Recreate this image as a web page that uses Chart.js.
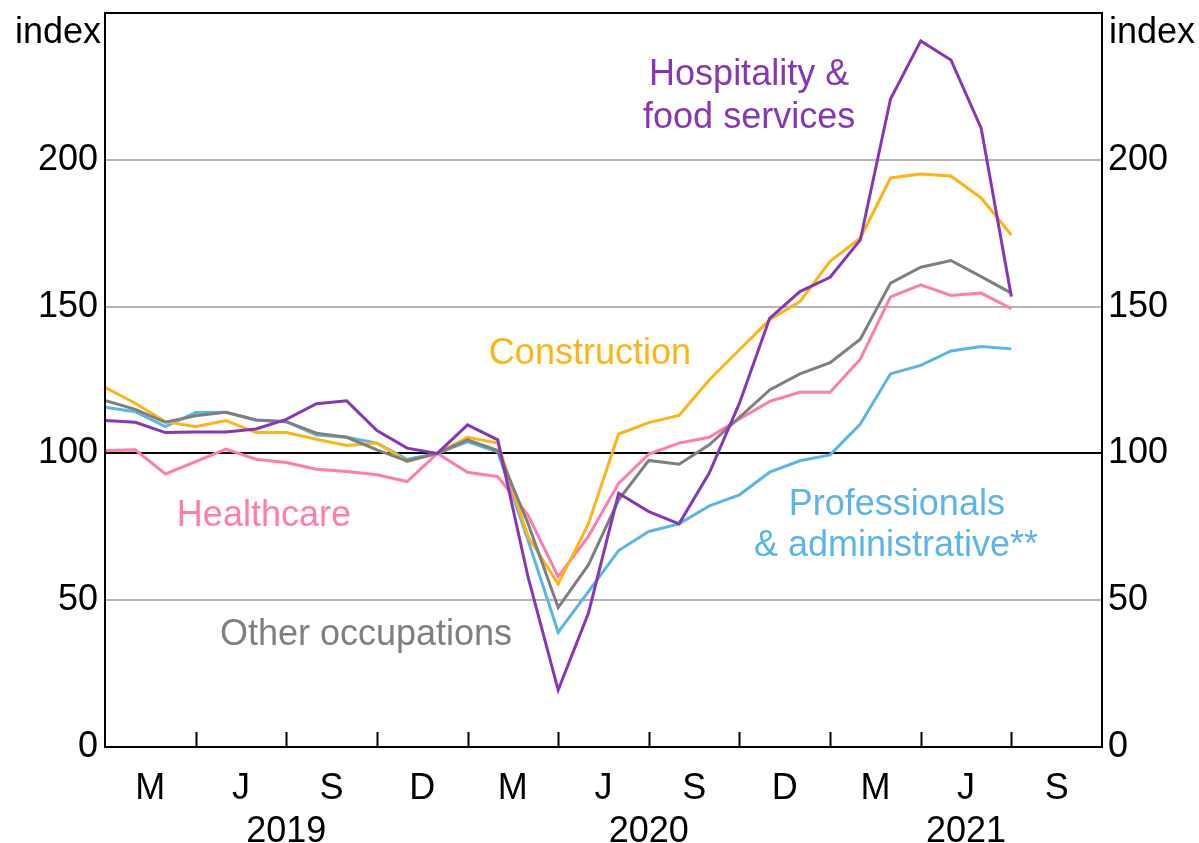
<!DOCTYPE html>
<html>
<head>
<meta charset="utf-8">
<script src="https://cdn.jsdelivr.net/npm/chart.js@4/dist/chart.umd.min.js"></script>
<style>
  html, body { margin: 0; padding: 0; background: #fff; }
  #wrap { width: 1199px; height: 843px; }
</style>
</head>
<body>
<div id="wrap"><canvas id="jobChart" width="1199" height="843"></canvas></div>
<script>
// Monthly observations, Jan 2019 to Jul 2021
const months = ['2019-01','2019-02','2019-03','2019-04','2019-05','2019-06','2019-07','2019-08','2019-09','2019-10','2019-11','2019-12',
                '2020-01','2020-02','2020-03','2020-04','2020-05','2020-06','2020-07','2020-08','2020-09','2020-10','2020-11','2020-12',
                '2021-01','2021-02','2021-03','2021-04','2021-05','2021-06','2021-07'];

const hospitality = [111.2, 110.6, 107.1, 107.3, 107.3, 108.3, 111.6, 116.9, 117.9, 107.8, 101.8, 100,
                     109.7, 104.6, 58, 19.4, 45.5, 86.4, 80.2, 76, 93.3, 117.1, 146, 155.1,
                     160, 172.7, 220.7, 240.5, 234, 210.8, 153.4];
const construction = [122.5, 117.1, 110.8, 109.1, 111.2, 107.1, 107.1, 104.8, 102.7, 103.5, 97.2, 100,
                      105.5, 103.5, 71.7, 55.5, 76, 106.6, 110.5, 112.9, 125, 135.3, 145.5, 151.7,
                      165.4, 173.3, 193.8, 195.2, 194.5, 187, 174.4];
const otherOcc = [118, 115, 110.6, 112.8, 114, 111.4, 110.8, 106.9, 105.5, 101.2, 97.4, 100,
                  104.6, 101, 76.2, 47.5, 62, 84.2, 97.6, 96.3, 102.9, 112.3, 121.6, 127.1,
                  130.9, 138.9, 158, 163.4, 165.7, 160.2, 154.6];
const professionals = [115.7, 114.2, 109.1, 113.9, 114, 111.4, 110.8, 106.3, 105.5, 103.5, 98, 100,
                       103.9, 100.5, 70.5, 39.1, 52.9, 66.9, 73.4, 76, 82.1, 85.9, 93.6, 97.5,
                       99.5, 110, 127.1, 130, 134.9, 136.4, 135.6];
const healthcare = [100.9, 101.2, 93, 97.2, 101.5, 98, 96.9, 94.6, 93.8, 92.7, 90.4, 100,
                    93.6, 92.1, 79, 58, 71.7, 89.8, 99.8, 103.5, 105.5, 111.7, 117.7, 120.8,
                    120.8, 132.1, 153.3, 157.4, 153.8, 154.6, 149.3];

// x axis: quarter letters centred in each quarter, years under them
const quarterLetters = ['M', 'J', 'S', 'D'];
const yearLabels = { 6: '2019', 18: '2020', 28.5: '2021' };
const yTicks = [0, 50, 100, 150, 200, 250];

// text labels placed in data units (x = month index, y = index value)
const seriesLabels = [
  { text: 'Hospitality &', x: 21.32, y: 225.6, color: '#8537B8' },
  { text: 'food services', x: 21.32, y: 211.0, color: '#8537B8' },
  { text: 'Construction', x: 16.05, y: 130.5, color: '#FDB515' },
  { text: 'Healthcare', x: 5.26, y: 75.3, color: '#FF7BB0' },
  { text: 'Other occupations', x: 8.64, y: 34.75, color: '#7F7F7F' },
  { text: 'Professionals', x: 26.21, y: 79.05, color: '#5BB5E6' },
  { text: '& administrative**', x: 26.18, y: 65.1, color: '#5BB5E6' }
];

const FONT = '"Liberation Sans", Arial, sans-serif';
const toPoints = arr => arr.map((v, i) => ({ x: months.indexOf(months[i]), y: v }));

const xTickValues = [];
for (let q = 0; q < 11; q++) xTickValues.push(q * 3 + 1.5);
xTickValues.push(6, 18);
xTickValues.sort((a, b) => a - b);

const noPad = scale => {
  scale.paddingTop = 0;
  scale.paddingBottom = 0;
  scale.paddingLeft = 0;
  scale.paddingRight = 0;
};

const extras = {
  id: 'extras',
  afterDraw(chart) {
    const { ctx, chartArea: a, scales } = chart;
    ctx.save();
    // frame
    ctx.strokeStyle = '#000';
    ctx.lineWidth = 2;
    ctx.strokeRect(a.left, a.top, a.right - a.left, a.bottom - a.top);
    // inward tick marks at quarter boundaries
    ctx.beginPath();
    for (let m = 3; m < 33; m += 3) {
      const px = Math.round(scales.x.getPixelForValue(m)) + 0.5;
      ctx.moveTo(px, a.bottom);
      ctx.lineTo(px, a.bottom - 15);
    }
    ctx.stroke();
    // axis unit labels
    ctx.fillStyle = '#000';
    ctx.font = '36px ' + FONT;
    ctx.textBaseline = 'alphabetic';
    ctx.textAlign = 'right';
    ctx.fillText('index', a.left - 4, 43);
    ctx.textAlign = 'left';
    ctx.fillText('index', a.right + 7, 43);
    // series labels
    ctx.textAlign = 'center';
    seriesLabels.forEach(l => {
      ctx.fillStyle = l.color;
      ctx.fillText(l.text, scales.x.getPixelForValue(l.x), scales.y.getPixelForValue(l.y));
    });
    ctx.restore();
  }
};

const ctx = document.getElementById('jobChart').getContext('2d');
const jobChart = new Chart(ctx, {
  type: 'line',
  data: {
    datasets: [
      { label: 'Hospitality & food services', data: toPoints(hospitality), borderColor: '#8537B8' },
      { label: 'Other occupations', data: toPoints(otherOcc), borderColor: '#7F7F7F' },
      { label: 'Construction', data: toPoints(construction), borderColor: '#FDB515' },
      { label: 'Healthcare', data: toPoints(healthcare), borderColor: '#FF7BB0' },
      { label: 'Professionals & administrative', data: toPoints(professionals), borderColor: '#5BB5E6' }
    ]
  },
  options: {
    responsive: false,
    animation: false,
    devicePixelRatio: 1,
    layout: { padding: { top: 13, left: 0, right: 0, bottom: 0 } },
    elements: {
      line: { borderWidth: 3, tension: 0, fill: false },
      point: { radius: 0 }
    },
    plugins: {
      legend: { display: false },
      tooltip: { enabled: false },
      title: { display: false }
    },
    scales: {
      x: {
        type: 'linear',
        min: 0,
        max: 33,
        afterBuildTicks: scale => { scale.ticks = xTickValues.map(v => ({ value: v })); },
        afterFit: scale => { scale.height = 96; noPad(scale); },
        grid: { display: false, drawTicks: false },
        border: { display: true, color: '#000', width: 2 },
        ticks: {
          autoSkip: false,
          maxRotation: 0,
          minRotation: 0,
          padding: 20,
          color: '#000',
          font: { family: FONT, size: 36 },
          callback: function (value) {
            const year = yearLabels[value];
            if (Number.isInteger(value) && value % 3 === 0) return ['', year || ''];
            const letter = quarterLetters[Math.floor(value / 3) % 4];
            return year ? [letter, year] : letter;
          }
        }
      },
      y: {
        position: 'left',
        min: 0,
        max: 250,
        afterBuildTicks: scale => { scale.ticks = yTicks.map(v => ({ value: v })); },
        afterFit: scale => { scale.width = 105; noPad(scale); },
        grid: {
          drawTicks: false,
          lineWidth: 2,
          color: c => {
            const v = c.tick ? c.tick.value : null;
            if (v === 100) return '#000';
            if (v === 0 || v === 250) return 'rgba(0,0,0,0)';
            return '#B4B4B4';
          }
        },
        border: { display: true, color: '#000', width: 2 },
        ticks: {
          padding: 7,
          color: '#000',
          font: { family: FONT, size: 36 },
          callback: v => (v === 250 ? '' : v)
        }
      },
      y2: {
        position: 'right',
        min: 0,
        max: 250,
        afterBuildTicks: scale => { scale.ticks = yTicks.map(v => ({ value: v })); },
        afterFit: scale => { scale.width = 97; noPad(scale); },
        grid: { display: false, drawTicks: false },
        border: { display: true, color: '#000', width: 2 },
        ticks: {
          padding: 6,
          color: '#000',
          font: { family: FONT, size: 36 },
          callback: v => (v === 250 ? '' : v)
        }
      }
    }
  },
  plugins: [extras]
});
</script>
</body>
</html>
